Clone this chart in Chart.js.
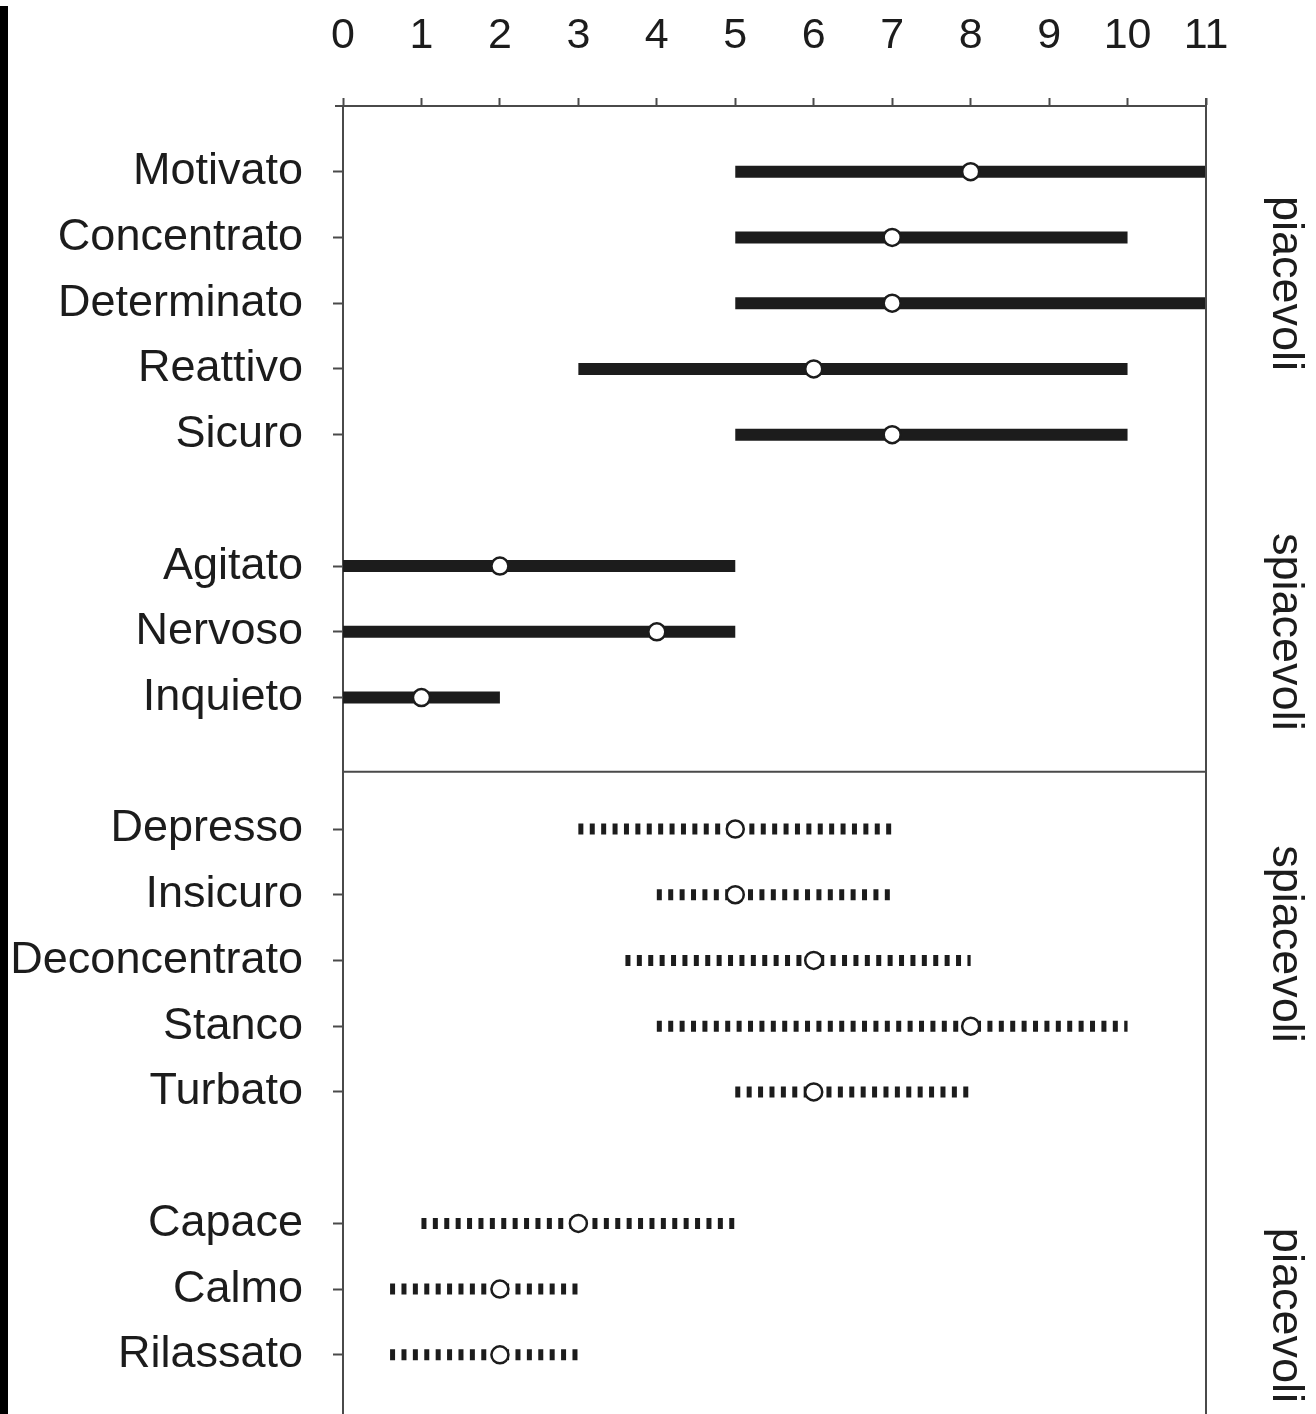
<!DOCTYPE html>
<html>
<head>
<meta charset="utf-8">
<script src="https://cdn.jsdelivr.net/npm/chart.js@4/dist/chart.umd.min.js"></script>
<style>
  body { margin: 0; background: #fff; }
  #wrap { position: relative; width: 1316px; height: 1414px; }
  #stripe { position: absolute; left: 0; top: 6px; width: 8px; bottom: 0; background: #000; }
</style>
</head>
<body>
<div id="wrap">
  <canvas id="grafico" width="1316" height="1414"></canvas>
  <div id="stripe"></div>
</div>
<script>
// gruppi di emozioni (dall'alto verso il basso)
const groupLabels = ['piacevoli', 'spiacevoli', 'spiacevoli', 'piacevoli'];
const groupSizes = [5, 3, 5, 3];

const emotions = [
    'Motivato', 'Concentrato', 'Determinato', 'Reattivo', 'Sicuro',
    'Agitato', 'Nervoso', 'Inquieto',
    'Depresso', 'Insicuro', 'Deconcentrato', 'Stanco', 'Turbato',
    'Capace', 'Calmo', 'Rilassato'
];

// intervallo (min - max) e valore centrale per ogni emozione
const lowValues    = [5, 5, 5, 3, 5,   0, 0, 0,   3, 4, 3.6, 4, 5,   1, 0.6, 0.6];
const medianValues = [8, 7, 7, 6, 7,   2, 4, 1,   5, 5, 6,   8, 6,   3, 2,   2];
const highValues   = [11, 10, 11, 10, 10,   5, 5, 2,   7, 7, 8, 10, 8,   5, 3, 3];

const xTicks = [0, 1, 2, 3, 4, 5, 6, 7, 8, 9, 10, 11];

// posizione delle righe: una riga vuota tra un gruppo e l'altro
const rowPos = [];
const rowGroup = [];
let pos = 0;
groupSizes.forEach(function (n, g) {
    for (let i = 0; i < n; i++) {
        rowPos.push(pos);
        rowGroup.push(g);
        pos++;
    }
    pos++;
});
const rowLabel = {};
rowPos.forEach(function (p, i) { rowLabel[p] = emotions[i]; });

const FONT = '"Liberation Sans", Arial, Helvetica, sans-serif';
const INK = '#1c1c1c';
const AXIS = '#4a4a4a';

// una linea per ogni emozione, tratteggiata per il secondo pannello
const datasets = emotions.map(function (name, i) {
    const dashed = rowGroup[i] >= 2;
    return {
        label: name,
        data: [{ x: lowValues[i], y: rowPos[i] }, { x: highValues[i], y: rowPos[i] }],
        showLine: true,
        borderColor: INK,
        borderWidth: dashed ? 11 : 12,
        borderDash: dashed ? [5, 6.4] : [],
        borderCapStyle: 'butt',
        pointRadius: 0,
        order: 1,
        clip: false
    };
});

// cerchietti bianchi sopra le linee
datasets.push({
    label: 'mediana',
    data: medianValues.map(function (v, i) { return { x: v, y: rowPos[i] }; }),
    showLine: false,
    pointStyle: 'circle',
    pointRadius: 8.5,
    pointBackgroundColor: '#fff',
    pointBorderColor: INK,
    pointBorderWidth: 2.5,
    order: 0,
    clip: false
});

// posizione (in righe) delle etichette di gruppo e del divisore
const groupLabelRows = [1.7, 7.0, 11.75, 17.4];
const dividerRow = 9.13;

const extras = {
    id: 'extras',
    afterDraw: function (chart) {
        const ctx = chart.ctx;
        const a = chart.chartArea;
        const y = chart.scales.y;
        ctx.save();
        ctx.strokeStyle = AXIS;
        ctx.lineWidth = 2;
        ctx.beginPath();
        // bordo destro
        ctx.moveTo(a.right, a.top - 8);
        ctx.lineTo(a.right, a.bottom);
        // prolungamento asse superiore
        ctx.moveTo(a.left - 8, a.top);
        ctx.lineTo(a.left, a.top);
        // separatore tra i due pannelli
        const dy = y.getPixelForValue(dividerRow);
        ctx.moveTo(a.left, dy);
        ctx.lineTo(a.right, dy);
        ctx.stroke();

        ctx.fillStyle = INK;
        ctx.font = '45px ' + FONT;
        ctx.textAlign = 'center';
        ctx.textBaseline = 'middle';
        groupLabels.forEach(function (txt, g) {
            ctx.save();
            ctx.translate(1285, y.getPixelForValue(groupLabelRows[g]));
            ctx.rotate(Math.PI / 2);
            ctx.fillText(txt, 0, 0);
            ctx.restore();
        });
        ctx.restore();
    }
};

function noPadding(s) {
    s.paddingTop = 0;
    s.paddingBottom = 0;
    s.paddingLeft = 0;
    s.paddingRight = 0;
}

const ctx = document.getElementById('grafico').getContext('2d');
new Chart(ctx, {
    type: 'scatter',
    data: { datasets: datasets },
    plugins: [extras],
    options: {
        responsive: false,
        animation: false,
        devicePixelRatio: 1,
        layout: { autoPadding: false, padding: { top: 0, right: 110, bottom: 0, left: 0 } },
        plugins: {
            legend: { display: false },
            tooltip: { enabled: false }
        },
        scales: {
            x: {
                type: 'linear',
                position: 'top',
                min: 0,
                max: 11,
                afterBuildTicks: function (s) {
                    s.ticks = xTicks.map(function (v) { return { value: v }; });
                },
                afterFit: function (s) { s.height = 106; noPadding(s); },
                ticks: {
                    color: INK,
                    font: { family: FONT, size: 43 },
                    padding: 36
                },
                grid: {
                    drawOnChartArea: false,
                    tickLength: 8,
                    tickWidth: 2,
                    color: AXIS
                },
                border: { color: AXIS, width: 2 }
            },
            y: {
                type: 'linear',
                reverse: true,
                min: -1,
                max: 18.9,
                afterBuildTicks: function (s) {
                    s.ticks = rowPos.map(function (v) { return { value: v }; });
                },
                afterFit: function (s) { s.width = 343; noPadding(s); },
                ticks: {
                    color: INK,
                    font: { family: FONT, size: 45 },
                    padding: 30,
                    callback: function (value) { return rowLabel[value]; }
                },
                grid: {
                    drawOnChartArea: false,
                    tickLength: 10,
                    tickWidth: 2,
                    color: AXIS
                },
                border: { color: AXIS, width: 2 }
            }
        }
    }
});
</script>
</body>
</html>
